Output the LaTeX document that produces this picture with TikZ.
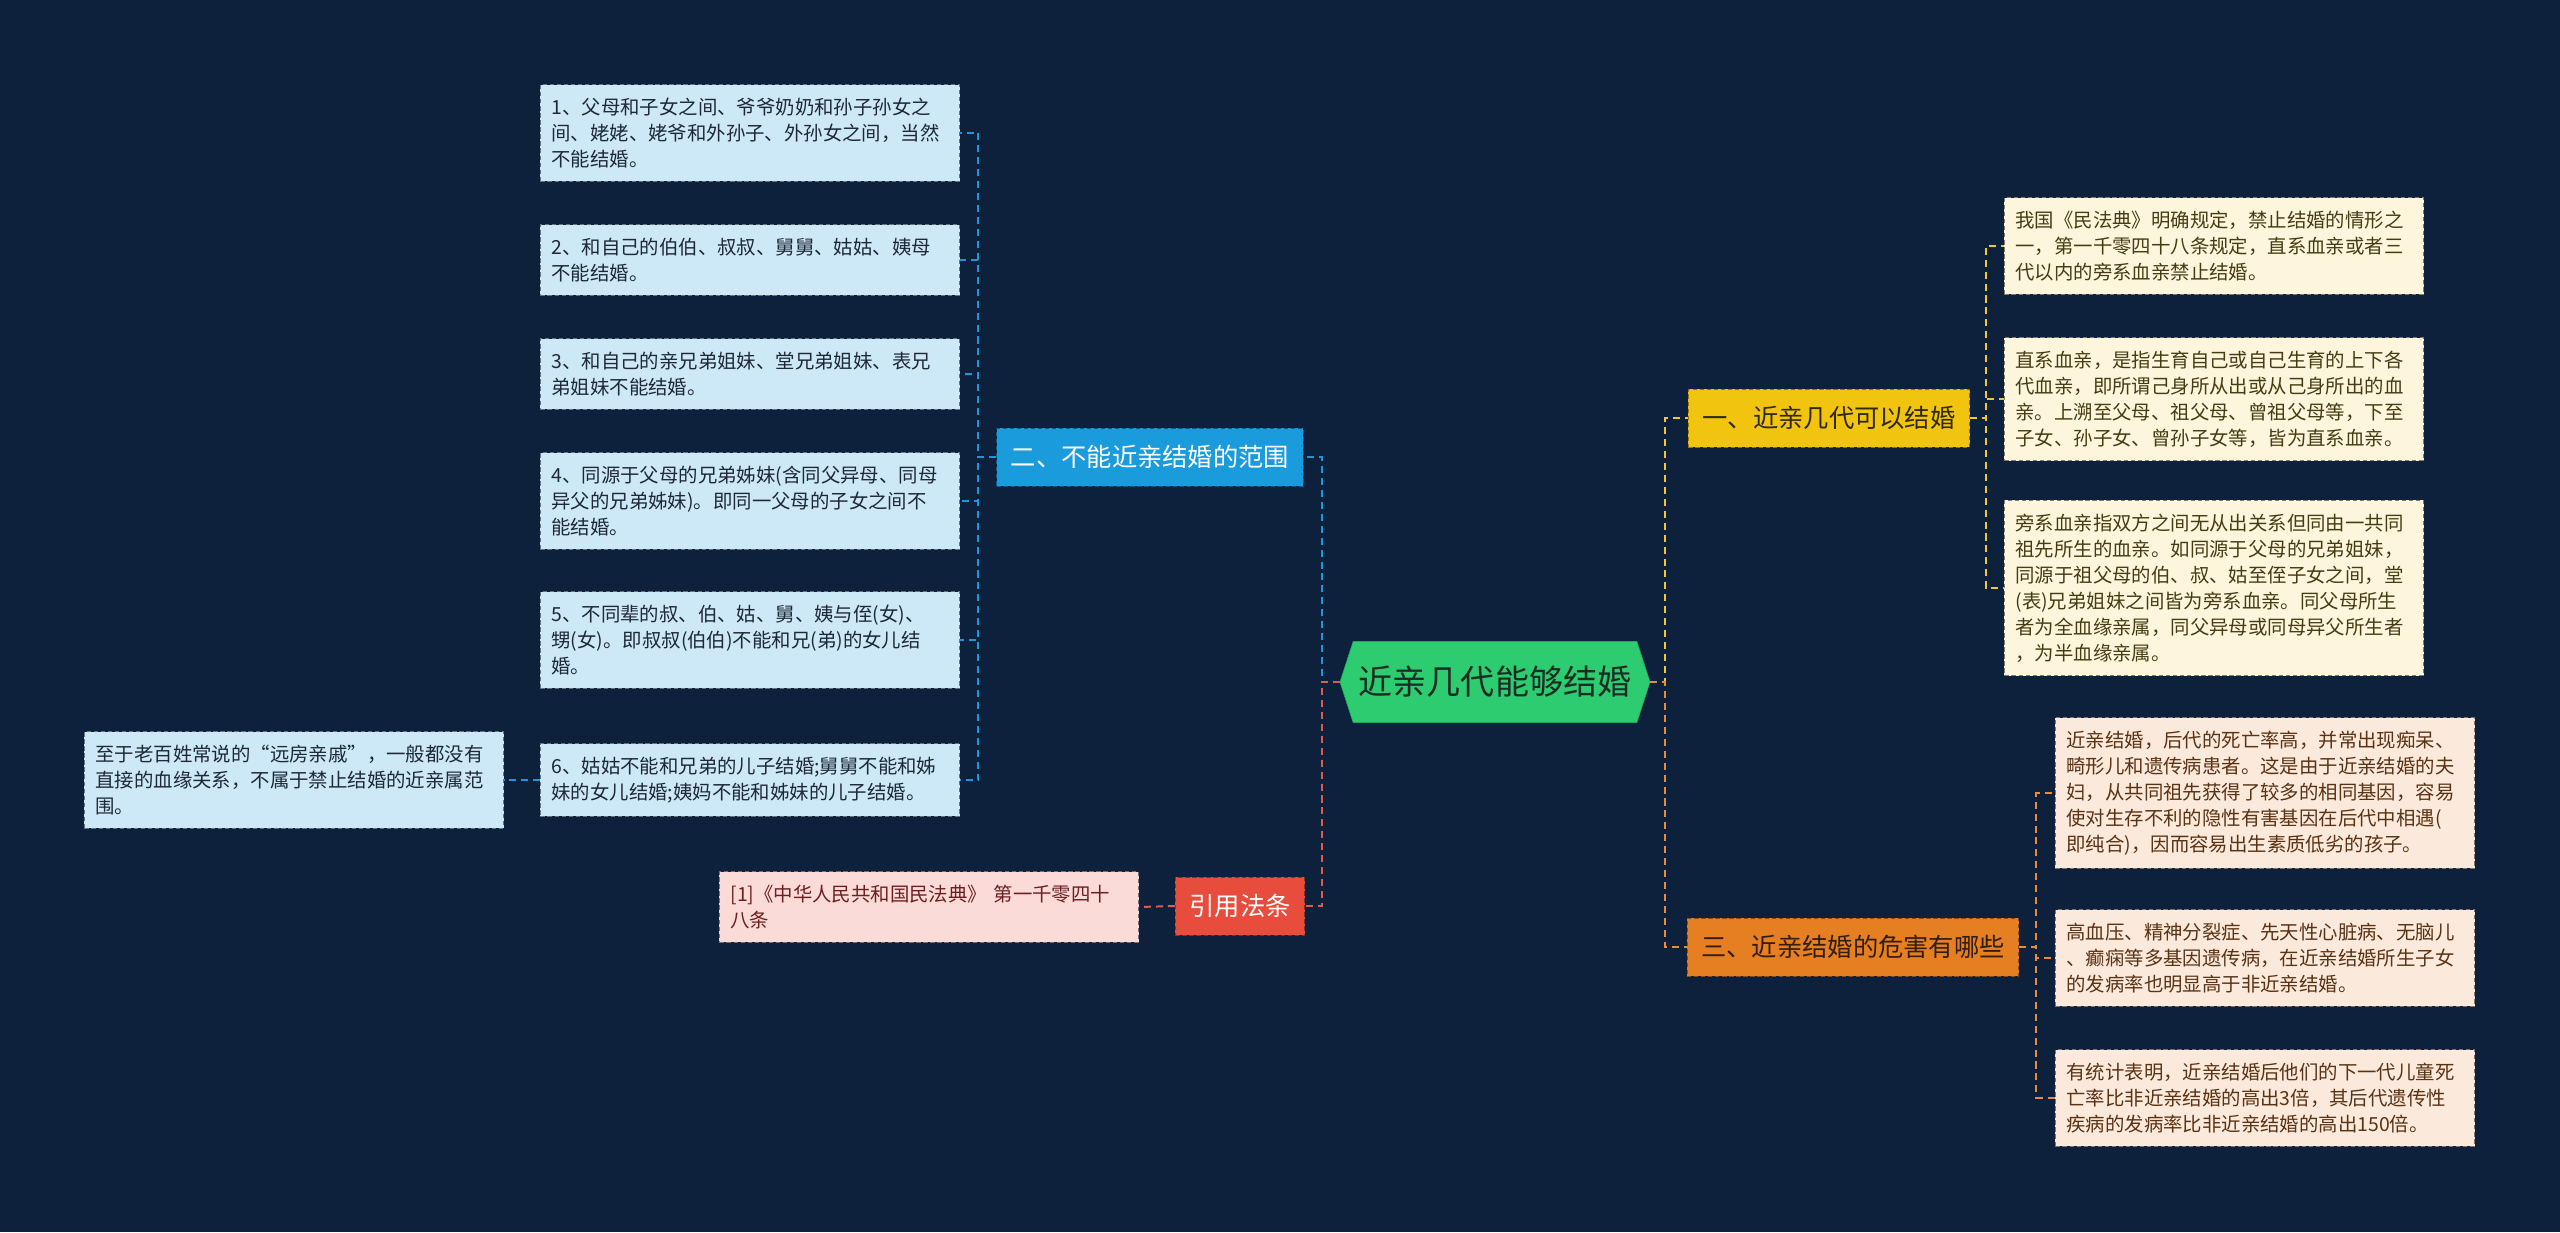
\documentclass[tikz,border=0pt]{standalone}
\usepackage{fontspec}
\newfontfamily\cjk{Noto Sans CJK SC}
\usetikzlibrary{positioning,shapes.symbols}
\definecolor{bgnavy}{RGB}{14,33,60}
\definecolor{mtgreen}{RGB}{46,204,113}
\definecolor{mtblue}{RGB}{26,155,220}
\definecolor{mtyellow}{RGB}{241,196,15}
\definecolor{mtorange}{RGB}{230,126,34}
\definecolor{mtred}{RGB}{231,76,60}
\definecolor{bluepale}{RGB}{205,233,248}
\definecolor{yellowpale}{RGB}{253,246,220}
\definecolor{orangepale}{RGB}{251,234,219}
\definecolor{redpale}{RGB}{250,219,216}
\definecolor{lnblue}{RGB}{30,150,220}
\definecolor{lnyellow}{RGB}{240,200,50}
\definecolor{lnorange}{RGB}{230,140,60}
\definecolor{lnred}{RGB}{225,90,80}
\tikzset{
  wire/.style={draw=#1,line width=1.4pt,dash pattern=on 5pt off 3.5pt},
  leafbox/.style={fill=#1,draw=#1!50!black,line width=0.6pt,dash pattern=on 3pt off 2pt,
    font=\cjk\fontsize{13.8pt}{18.5pt}\selectfont,text width=9.925cm,align=left,
    inner xsep=0.275cm,inner ysep=0.33cm},
  branch/.style={fill=#1,draw=#1!60!black,line width=0.6pt,dash pattern=on 3pt off 2pt,
    font=\cjk\fontsize{18pt}{20pt}\selectfont,inner xsep=0.35cm,minimum height=1.45cm},
  rootnode/.style={signal,signal to=east and west,signal pointer angle=144,fill=mtgreen,
    draw=mtgreen!80!black,font=\cjk\fontsize{24.2pt}{26pt}\selectfont,text={rgb,255:red,25;green,45;blue,35},
    minimum width=7.75cm,minimum height=2.025cm,inner sep=0pt}
}
\begin{document}
\begin{tikzpicture}[x=0.025cm,y=-0.025cm]
  \fill[bgnavy] (0,0) rectangle (2560,1232);
  \useasboundingbox (0,0) rectangle (2560,1232);
  % Root
  \node[rootnode] (root) at (1495,682) {近亲几代能够结婚};
  % Branches
  \node[branch=mtblue,text=white] (range) at (1150,457) {二、不能近亲结婚的范围};
  \node[branch=mtred,text=white] (cite) at (1240,906) {引用法条};
  \node[branch=mtyellow,text={rgb,255:red,50;green,40;blue,15}] (gens) at (1829,418) {一、近亲几代可以结婚};
  \node[branch=mtorange,text={rgb,255:red,50;green,30;blue,15}] (harm) at (1853,947) {三、近亲结婚的危害有哪些};
  % Range leaves
  \node[leafbox=bluepale,text={rgb,255:red,30;green,40;blue,55}] (r1) at (750,133)
    {1、父母和子女之间、爷爷奶奶和孙子孙女之\\间、姥姥、姥爷和外孙子、外孙女之间，当然\\不能结婚。};
  \node[leafbox=bluepale,text={rgb,255:red,30;green,40;blue,55}] (r2) at (750,260)
    {2、和自己的伯伯、叔叔、舅舅、姑姑、姨母\\不能结婚。};
  \node[leafbox=bluepale,text={rgb,255:red,30;green,40;blue,55}] (r3) at (750,374)
    {3、和自己的亲兄弟姐妹、堂兄弟姐妹、表兄\\弟姐妹不能结婚。};
  \node[leafbox=bluepale,text={rgb,255:red,30;green,40;blue,55}] (r4) at (750,501)
    {4、同源于父母的兄弟姊妹(含同父异母、同母\\异父的兄弟姊妹)。即同一父母的子女之间不\\能结婚。};
  \node[leafbox=bluepale,text={rgb,255:red,30;green,40;blue,55}] (r5) at (750,640)
    {5、不同辈的叔、伯、姑、舅、姨与侄(女)、\\甥(女)。即叔叔(伯伯)不能和兄(弟)的女儿结\\婚。};
  \node[leafbox=bluepale,text={rgb,255:red,30;green,40;blue,55}] (r6) at (750,780)
    {6、姑姑不能和兄弟的儿子结婚;舅舅不能和姊\\妹的女儿结婚;姨妈不能和姊妹的儿子结婚。};
  \node[leafbox=bluepale,text={rgb,255:red,30;green,40;blue,55}] (note) at (294,780)
    {至于老百姓常说的“远房亲戚”，一般都没有\\直接的血缘关系，不属于禁止结婚的近亲属范\\围。};
  % Citation leaf
  \node[leafbox=redpale,text={rgb,255:red,110;green,30;blue,30}] (law) at (929,907)
    {[1]《中华人民共和国民法典》 第一千零四十\\八条};
  % Generation leaves
  \node[leafbox=yellowpale,text={rgb,255:red,70;green,60;blue,20}] (g1) at (2214,246)
    {我国《民法典》明确规定，禁止结婚的情形之\\一，第一千零四十八条规定，直系血亲或者三\\代以内的旁系血亲禁止结婚。};
  \node[leafbox=yellowpale,text={rgb,255:red,70;green,60;blue,20}] (g2) at (2214,399)
    {直系血亲，是指生育自己或自己生育的上下各\\代血亲，即所谓己身所从出或从己身所出的血\\亲。上溯至父母、祖父母、曾祖父母等，下至\\子女、孙子女、曾孙子女等，皆为直系血亲。};
  \node[leafbox=yellowpale,text={rgb,255:red,70;green,60;blue,20}] (g3) at (2214,588)
    {旁系血亲指双方之间无从出关系但同由一共同\\祖先所生的血亲。如同源于父母的兄弟姐妹，\\同源于祖父母的伯、叔、姑至侄子女之间，堂\\(表)兄弟姐妹之间皆为旁系血亲。同父母所生\\者为全血缘亲属，同父异母或同母异父所生者\\，为半血缘亲属。};
  % Harm leaves
  \node[leafbox=orangepale,text={rgb,255:red,90;green,50;blue,20}] (h1) at (2265,793)
    {近亲结婚，后代的死亡率高，并常出现痴呆、\\畸形儿和遗传病患者。这是由于近亲结婚的夫\\妇，从共同祖先获得了较多的相同基因，容易\\使对生存不利的隐性有害基因在后代中相遇(\\即纯合)，因而容易出生素质低劣的孩子。};
  \node[leafbox=orangepale,text={rgb,255:red,90;green,50;blue,20}] (h2) at (2265,958)
    {高血压、精神分裂症、先天性心脏病、无脑儿\\、癫痫等多基因遗传病，在近亲结婚所生子女\\的发病率也明显高于非近亲结婚。};
  \node[leafbox=orangepale,text={rgb,255:red,90;green,50;blue,20}] (h3) at (2265,1098)
    {有统计表明，近亲结婚后他们的下一代儿童死\\亡率比非近亲结婚的高出3倍，其后代遗传性\\疾病的发病率比非近亲结婚的高出150倍。};
  % Connectors
  \draw[wire=lnblue] (root.west) -- ++(-18,0) |- (range.east);
  \draw[wire=lnred] (root.west) -- ++(-18,0) |- (cite.east);
  \draw[wire=lnyellow] (root.east) -- ++(15,0) |- (gens.west);
  \draw[wire=lnorange] (root.east) -- ++(15,0) |- (harm.west);
  \foreach \leaf in {r1,r2,r3,r4,r5,r6}
    \draw[wire=lnblue] (range.west) -- ++(-18,0) |- (\leaf.east);
  \draw[wire=lnblue] (r6.west) -- (note.east);
  \draw[wire=lnred] (cite.west) -- (law.east);
  \foreach \leaf in {g1,g2,g3}
    \draw[wire=lnyellow] (gens.east) -- ++(16,0) |- (\leaf.west);
  \foreach \leaf in {h1,h2,h3}
    \draw[wire=lnorange] (harm.east) -- ++(17,0) |- (\leaf.west);
\end{tikzpicture}
\end{document}
